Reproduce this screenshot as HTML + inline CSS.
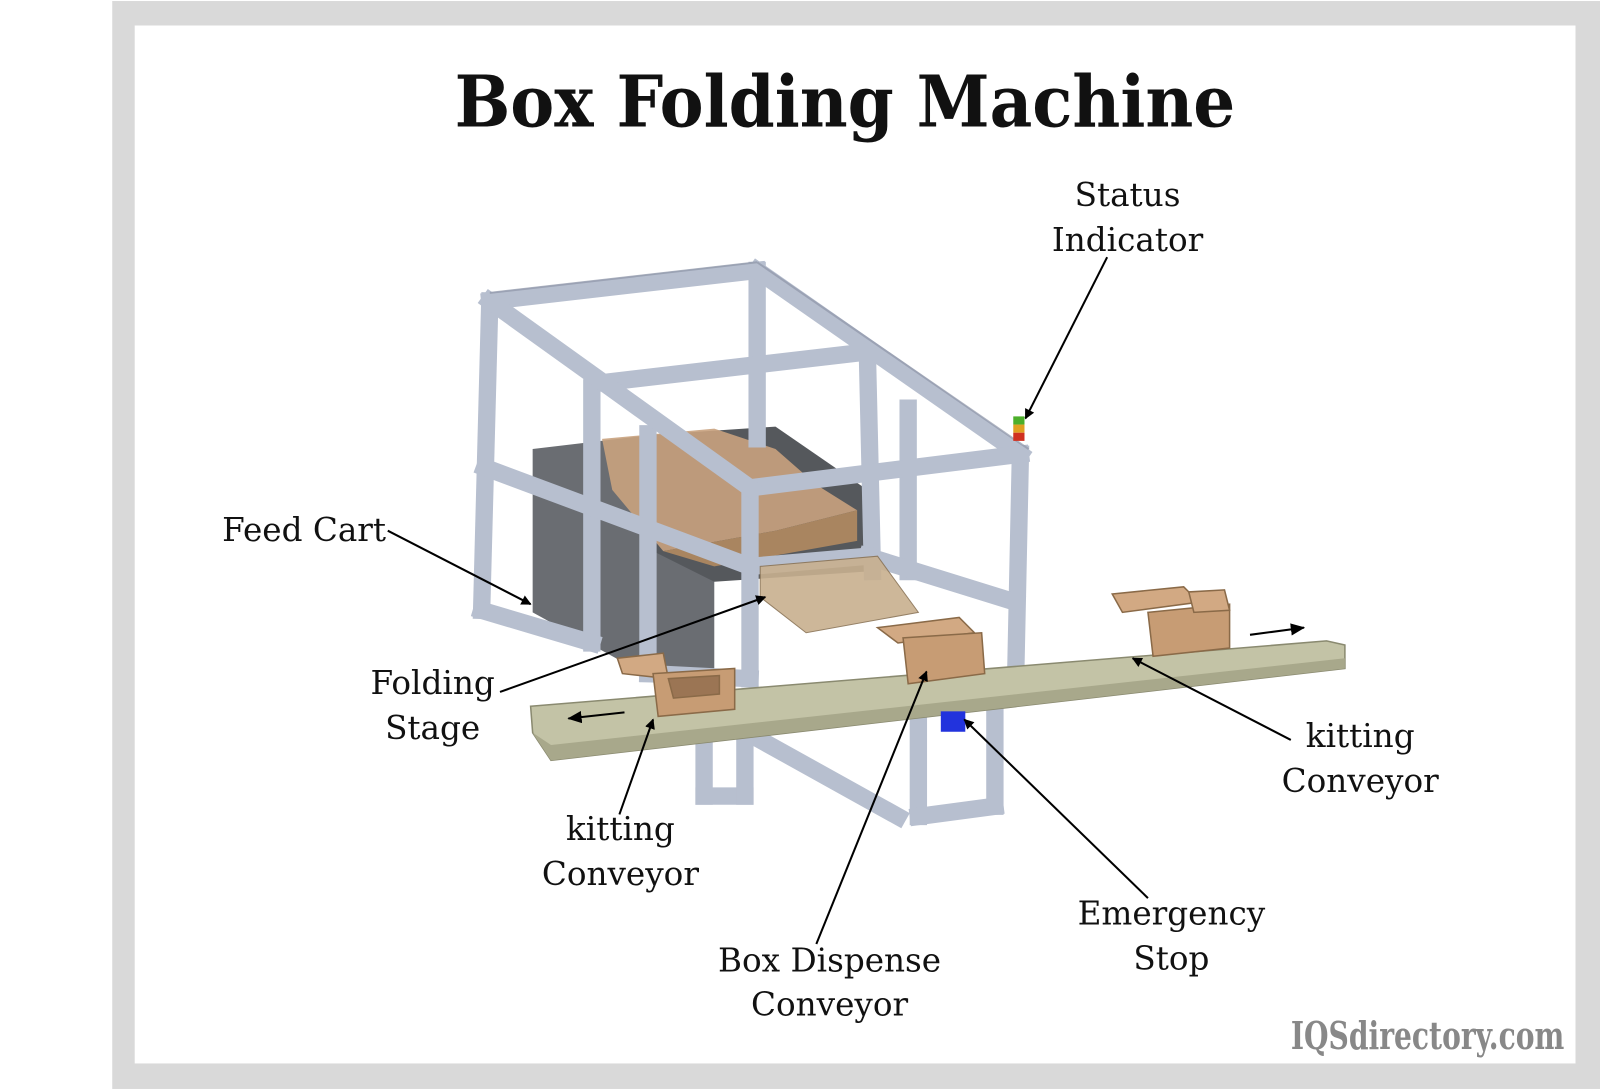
<!DOCTYPE html>
<html><head><meta charset="utf-8"><style>
html,body{margin:0;padding:0;background:#fff;}
svg{display:block}
text{font-family:"DejaVu Serif","Liberation Serif",serif;}
</style></head><body>
<svg width="1600" height="1091" viewBox="0 0 1568 1069" preserveAspectRatio="none">
<defs>
<marker id="ah" markerWidth="10" markerHeight="10" refX="9" refY="5" orient="auto" markerUnits="userSpaceOnUse" viewBox="0 0 10 10"><path d="M0,0 L10,5 L0,10 z" fill="#000"/></marker>
<marker id="ah2" markerWidth="14" markerHeight="12" refX="13" refY="6" orient="auto" markerUnits="userSpaceOnUse" viewBox="0 0 14 12"><path d="M0,0 L14,6 L0,12 z" fill="#000"/></marker>
</defs>
<rect x="0" y="0" width="1568" height="1069" fill="#fff"/>
<rect x="110" y="1" width="1458" height="1066" fill="#d9d9d9"/>
<rect x="132" y="25" width="1412" height="1017" fill="#fff"/>

<text x="828" y="124" font-size="70" font-weight="bold" text-anchor="middle" textLength="765" lengthAdjust="spacingAndGlyphs" fill="#111">Box Folding Machine</text>

<!-- feed cart dark box -->
<polygon points="522,440 640,426 700,440 700,660 640,665 522,600" fill="#6a6d72"/>
<polygon points="640,426 760,418 850,480 850,560 700,570 640,540" fill="#55585c"/>
<!-- cardboard stack -->
<polygon points="590,430 700,420 760,440 800,475 840,500 760,520 650,540 600,480" fill="#c9a27e" opacity="0.9"/>
<polygon points="650,540 760,520 840,500 840,530 700,555" fill="#a98560"/>

<!-- frame -->
<g stroke="#b7bfcf" stroke-width="17" stroke-linecap="square" fill="none">
<line x1="742" y1="265" x2="742" y2="430"/>
<line x1="850" y1="345" x2="855" y2="560"/>
<line x1="890" y1="400" x2="890" y2="560"/>
<line x1="700" y1="700" x2="880" y2="800"/>
<line x1="480" y1="295" x2="742" y2="265"/>
<line x1="742" y1="265" x2="1000" y2="445"/>
<line x1="590" y1="375" x2="848" y2="345"/>
<line x1="480" y1="295" x2="472" y2="598"/>
<line x1="580" y1="380" x2="580" y2="630"/>
<line x1="635" y1="425" x2="635" y2="660"/>
<line x1="735" y1="478" x2="735" y2="665"/>
<line x1="1000" y1="445" x2="995" y2="680"/>
<line x1="735" y1="478" x2="1000" y2="445"/>
<line x1="480" y1="295" x2="735" y2="478"/>
<line x1="475" y1="458" x2="735" y2="555"/>
<line x1="735" y1="555" x2="850" y2="545"/>
<line x1="850" y1="545" x2="995" y2="590"/>
<line x1="472" y1="598" x2="580" y2="630"/>
<line x1="635" y1="660" x2="735" y2="665"/>
<line x1="690" y1="720" x2="690" y2="780"/>
<line x1="690" y1="780" x2="730" y2="780"/>
<line x1="730" y1="700" x2="730" y2="780"/>
<line x1="900" y1="690" x2="900" y2="800"/>
<line x1="975" y1="685" x2="975" y2="790"/>
<line x1="900" y1="800" x2="975" y2="790"/>
</g>
<g stroke="#8e96a8" stroke-width="2" fill="none" opacity="0.7">
<line x1="480" y1="287" x2="742" y2="257"/>
<line x1="742" y1="257" x2="1008" y2="440"/>
</g>
<!-- folding stage -->
<polygon points="745,555 860,545 900,600 790,620 745,585" fill="#c8b08f" opacity="0.9" stroke="#8a7355"/>

<!-- conveyor -->
<polygon points="520,692 1300,628 1318,632 1318,655 540,745 522,718" fill="#c3c3a6" stroke="#8a8a70" stroke-width="1.5"/>
<polygon points="522,718 540,745 1318,655 1318,645 540,730" fill="#a8a88b"/>
<!-- boxes -->
<g stroke="#8a6a48" stroke-width="1.5">
<polygon points="605,645 650,640 655,665 610,660" fill="#d2a983"/>
<polygon points="640,660 720,655 720,695 645,702" fill="#c79c74"/>
<polygon points="655,665 705,662 705,680 660,684" fill="#9b7554"/>
<polygon points="860,615 940,605 955,620 880,630" fill="#d2a983"/>
<polygon points="885,625 962,620 965,660 890,670" fill="#c79c74"/>
<polygon points="1090,582 1160,575 1175,590 1100,600" fill="#d2a983"/>
<polygon points="1125,600 1205,592 1205,635 1130,643" fill="#c79c74"/>
<polygon points="1165,580 1200,578 1205,598 1170,600" fill="#d2a983"/>
</g>
<!-- blue e-stop -->
<rect x="922" y="697" width="24" height="20" fill="#2233dd"/>
<!-- status indicator -->
<rect x="993" y="408" width="11" height="8" fill="#4caf2a"/>
<rect x="993" y="416" width="11" height="8" fill="#e0a020"/>
<rect x="993" y="424" width="11" height="8" fill="#d03020"/>

<!-- arrows -->
<g stroke="#000" stroke-width="2" fill="none">
<line x1="1085" y1="252" x2="1005" y2="410" marker-end="url(#ah)"/>
<line x1="380" y1="520" x2="520" y2="592" marker-end="url(#ah)"/>
<line x1="490" y1="678" x2="750" y2="585" marker-end="url(#ah)"/>
<line x1="607" y1="798" x2="640" y2="705" marker-end="url(#ah)"/>
<line x1="800" y1="925" x2="908" y2="658" marker-end="url(#ah)"/>
<line x1="1125" y1="880" x2="945" y2="705" marker-end="url(#ah)"/>
<line x1="1265" y1="725" x2="1110" y2="645" marker-end="url(#ah)"/>
<line x1="612" y1="698" x2="557" y2="704" marker-end="url(#ah2)"/>
<line x1="1225" y1="622" x2="1278" y2="615" marker-end="url(#ah2)"/>
</g>

<g font-size="32" fill="#111" text-anchor="middle">
<text x="1105" y="202">Status</text>
<text x="1105" y="246">Indicator</text>
<text x="298" y="530">Feed Cart</text>
<text x="424" y="680">Folding</text>
<text x="424" y="724">Stage</text>
<text x="608" y="823">kitting</text>
<text x="608" y="867">Conveyor</text>
<text x="813" y="952">Box Dispense</text>
<text x="813" y="995">Conveyor</text>
<text x="1148" y="906">Emergency</text>
<text x="1148" y="950">Stop</text>
<text x="1333" y="732">kitting</text>
<text x="1333" y="776">Conveyor</text>
</g>
<text x="1533" y="1028" font-size="38" font-weight="bold" fill="#888" text-anchor="end" textLength="268" lengthAdjust="spacingAndGlyphs">IQSdirectory.com</text>
</svg>
</body></html>
